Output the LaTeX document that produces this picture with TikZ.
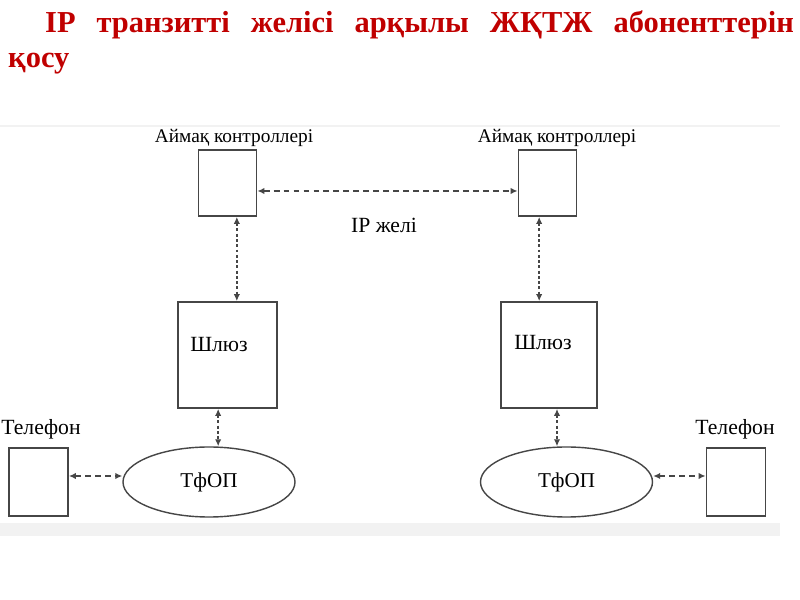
\documentclass[tikz,border=0pt]{standalone}
\usepackage{fontspec}
\setmainfont{Liberation Serif}
\usetikzlibrary{arrows.meta,shapes.geometric}
\definecolor{titlered}{RGB}{192,0,0}
\definecolor{linegray}{RGB}{70,70,70}
\tikzset{
  box/.style={draw=linegray, line width=1.5pt, fill=white, inner sep=0pt},
  cloud/.style={ellipse, draw=linegray, line width=1.2pt, fill=white, inner sep=0pt,
    minimum width=5.16cm, minimum height=2.1cm, font=\fontsize{18}{20}\selectfont},
  link/.style={draw=linegray, line width=1.4pt, dash pattern=on 5pt off 3.5pt,
    {Latex[length=6pt,width=5.5pt]}-{Latex[length=6pt,width=5.5pt]}},
  vlink/.style={link, dash pattern=on 2.5pt off 2pt},
  lbl/.style={font=\fontsize{18.5}{20}\selectfont, inner sep=0pt},
  small lbl/.style={font=\fontsize{16.5}{18}\selectfont, inner sep=0pt}
}
\begin{document}
\begin{tikzpicture}[x=0.03cm,y=-0.03cm]
\useasboundingbox (0,0) rectangle (800,600);
% frame of the scheme
\fill[gray!10] (0,125) rectangle (780,536);
\fill[white] (0,127) rectangle (780,523);
% title
\node[anchor=base west, inner sep=0pt, text=titlered, font=\bfseries\fontsize{26}{30}\selectfont] (title1) at (45,33) {\makebox[639pt][s]{IP транзитті желісі арқылы ЖҚТЖ абоненттерін}};
\node[anchor=base west, inner sep=0pt, text=titlered, font=\bfseries\fontsize{26}{30}\selectfont] (title2) at (8,68) {қосу};
% controllers
\node[box, minimum width=1.74cm, minimum height=1.98cm] (ctrlL) at (227.5,183) {};
\node[box, minimum width=1.74cm, minimum height=1.98cm] (ctrlR) at (547.5,183) {};
\node[small lbl] (ctrlLtxt) at (234,138) {Аймақ контроллері};
\node[small lbl] (ctrlRtxt) at (557,138) {Аймақ контроллері};
\node[lbl] (ipnet) at (384,225) {IP желі};
% gateways
\node[box, minimum width=2.97cm, minimum height=3.18cm] (gwL) at (227.5,355) {};
\node[box, minimum width=2.88cm, minimum height=3.18cm] (gwR) at (549,355) {};
\node[lbl] (gwLtxt) at (219,345) {Шлюз};
\node[lbl] (gwRtxt) at (543,343) {Шлюз};
% PSTN
\node[cloud] (tfopL) at (209,482) {ТфОП};
\node[cloud] (tfopR) at (566.5,482) {ТфОП};
% phones
\node[box, minimum width=1.77cm, minimum height=2.04cm] (telL) at (38.5,482) {};
\node[box, minimum width=1.77cm, minimum height=2.04cm] (telR) at (736,482) {};
\node[lbl] (telLtxt) at (41,429) {Телефон};
\node[lbl] (telRtxt) at (735,429) {Телефон};
% links
\draw[link] ([yshift=-0.24cm]ctrlL.east) -- ([yshift=-0.24cm]ctrlR.west);
\coordinate (vL) at ([xshift=0.28cm]ctrlL.south);
\coordinate (vR) at ([xshift=-0.25cm]ctrlR.south);
\draw[vlink] (vL) -- (vL |- gwL.north);
\draw[vlink] (vR) -- (vR |- gwR.north);
\coordinate (wL) at ([xshift=-0.28cm]gwL.south);
\coordinate (wR) at ([xshift=0.24cm]gwR.south);
\draw[vlink] (wL) -- (wL |- tfopL.north);
\draw[vlink] (wR) -- (wR |- tfopR.north);
\coordinate (hL) at ([yshift=0.18cm]telL.east);
\coordinate (hR) at ([yshift=0.18cm]telR.west);
\draw[link] (hL) -- (hL -| tfopL.west);
\draw[link] (hR -| tfopR.east) -- (hR);
\end{tikzpicture}
\end{document}
